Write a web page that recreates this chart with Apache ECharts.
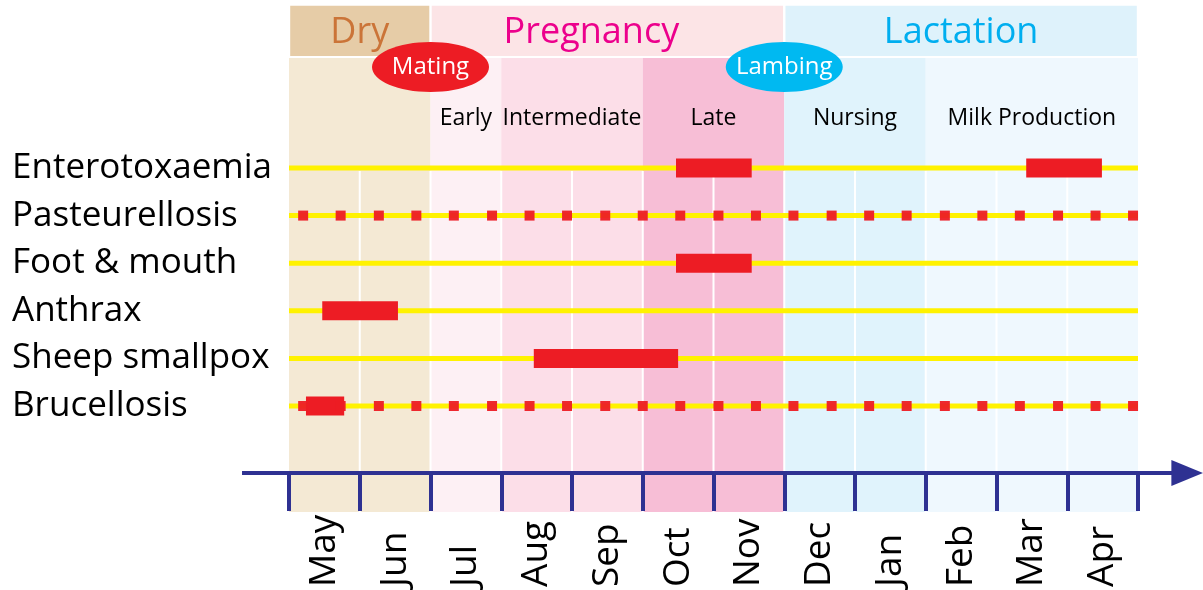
<!DOCTYPE html>
<html>
<head>
<meta charset="utf-8">
<script src="https://cdn.jsdelivr.net/npm/echarts@6/dist/echarts.min.js"></script>
<style>
html, body { margin: 0; padding: 0; background: #fff; }
#chart { width: 1203px; height: 590px; }
</style>
</head>
<body>
<div id="chart"></div>
<script>
// categories
const months = ['May', 'Jun', 'Jul', 'Aug', 'Sep', 'Oct', 'Nov', 'Dec', 'Jan', 'Feb', 'Mar', 'Apr']
const diseases = ['Enterotoxaemia', 'Pasteurellosis', 'Foot & mouth', 'Anthrax', 'Sheep smallpox', 'Brucellosis']

// seasons (month index start / end)
const seasonNames = ['Dry', 'Pregnancy', 'Lactation']
const seasonStart = [0, 2, 7]
const seasonEnd = [2, 7, 12]

// physiological stages
const stageNames = ['', 'Early', 'Intermediate', 'Late', 'Nursing', 'Milk Production']
const stageStart = [0, 2, 3, 5, 7, 9]
const stageEnd = [2, 3, 5, 7, 9, 12]

// events on the calendar
const eventNames = ['Mating', 'Lambing']
const eventMonth = [2, 7]

// vaccination periods: [start month, end month, disease row]
const vaccinationBars = [
  [5.47, 6.54, 0],
  [10.42, 11.49, 0],
  [5.47, 6.54, 2],
  [0.47, 1.54, 3],
  [3.46, 5.5, 4],
  [0.24, 0.78, 5],
]

// repeated (year-round) vaccination marks
const dottedRows = [1, 5]
const dotMonths = [0.2, 0.73, 1.27, 1.8, 2.33, 2.87, 3.4, 3.93, 4.47, 5.0, 5.53, 6.07, 6.6,
  7.13, 7.67, 8.2, 8.73, 9.27, 9.8, 10.33, 10.87, 11.4, 11.93]

const monthEdges = [1, 2, 3, 4, 5, 6, 7, 8, 9, 10, 11]

// layout, in y-axis units (row 0 = 0, one row = 1)
const HEADER_TOP = -3.41
const HEADER_BOTTOM = -2.353
const BODY_TOP = -2.311
const BODY_BOTTOM = 7.227
const HEADER_LABEL_Y = -2.84
const EVENT_Y = -2.122
const STAGE_LABEL_Y = -1.04
const SEP_TOP = 0.063
const AXIS_Y = 6.408

const FONT = '"Open Sans", "Noto Sans", sans-serif'
const RED = '#ed1c24'
const YELLOW = '#fff200'
const AXIS_BLUE = '#2e3192'
const seasonFill = ['#e6cca7', '#fce4e6', '#def2fb']
const seasonText = ['#cb7438', '#ec008c', '#00aeef']
const seasonLabelDx = [0, -16, 0]
const stageFill = ['#f4e9d4', '#fdf0f4', '#fcdee8', '#f7bed6', '#e0f3fc', '#eff8fe']
const eventFill = ['#ed1c24', '#00b9f1']

const chart = echarts.init(document.getElementById('chart'))

function rectBetween(api, x0, x1, y0, y1, fill, inset = 0) {
  const a = api.coord([x0, y0])
  const b = api.coord([x1, y1])
  return {
    type: 'rect',
    shape: { x: a[0] + inset, y: a[1], width: b[0] - a[0] - inset * 2, height: b[1] - a[1] },
    style: { fill },
  }
}

chart.setOption({
  animation: false,
  grid: { left: 289, right: 65, top: 25.2, bottom: 117, outerBoundsMode: 'none', containLabel: false },
  xAxis: [
    { type: 'value', min: 0, max: 12, position: 'top', show: false },
    {
      type: 'category',
      data: months,
      position: 'bottom',
      boundaryGap: true,
      z: 5,
      axisLine: { show: false },
      axisTick: { show: true, length: 38, interval: 0, lineStyle: { color: AXIS_BLUE, width: 4 } },
      axisLabel: {
        interval: 0, rotate: 90, margin: 114, align: 'left', verticalAlign: 'middle',
        color: '#000', fontSize: 37, fontFamily: FONT,
      },
      splitLine: { show: false },
    },
  ],
  yAxis: {
    type: 'value',
    inverse: true,
    min: -3,
    max: AXIS_Y,
    interval: 1,
    axisLine: { show: false },
    axisTick: { show: false },
    splitLine: { show: false },
    axisLabel: {
      margin: 277, align: 'left', color: '#000', fontSize: 35, fontFamily: FONT,
      showMaxLabel: false,
      formatter: (v) => diseases[v] ?? '',
    },
  },
  series: [
    {
      name: 'stages',
      type: 'custom',
      silent: true,
      data: stageStart.map((s, i) => [s, stageEnd[i]]),
      renderItem: (params, api) => {
        const i = params.dataIndex
        const x0 = api.value(0), x1 = api.value(1)
        const mid = api.coord([(x0 + x1) / 2, STAGE_LABEL_Y])
        return {
          type: 'group',
          children: [
            rectBetween(api, x0, x1, BODY_TOP, BODY_BOTTOM, stageFill[i]),
            {
              type: 'text', x: mid[0], y: mid[1],
              style: { text: stageNames[i], fill: '#000', fontSize: 23, fontFamily: FONT, align: 'center', verticalAlign: 'middle' },
            },
          ],
        }
      },
    },
    {
      name: 'seasons',
      type: 'custom',
      silent: true,
      data: seasonStart.map((s, i) => [s, seasonEnd[i]]),
      renderItem: (params, api) => {
        const i = params.dataIndex
        const x0 = api.value(0), x1 = api.value(1)
        const mid = api.coord([(x0 + x1) / 2, HEADER_LABEL_Y])
        return {
          type: 'group',
          children: [
            rectBetween(api, x0, x1, HEADER_TOP, HEADER_BOTTOM, seasonFill[i], 1.2),
            {
              type: 'text', x: mid[0] + seasonLabelDx[i], y: mid[1],
              style: { text: seasonNames[i], fill: seasonText[i], fontSize: 36, fontFamily: FONT, align: 'center', verticalAlign: 'middle' },
            },
          ],
        }
      },
    },
    {
      name: 'month separators',
      type: 'custom',
      silent: true,
      data: monthEdges,
      renderItem: (params, api) => {
        const a = api.coord([api.value(0), SEP_TOP])
        const b = api.coord([api.value(0), BODY_BOTTOM])
        return { type: 'line', shape: { x1: a[0], y1: a[1], x2: b[0], y2: b[1] }, style: { stroke: '#fff', lineWidth: 2 } }
      },
    },
    {
      name: 'rows',
      type: 'custom',
      silent: true,
      data: diseases.map((d, i) => [i]),
      renderItem: (params, api) => {
        const a = api.coord([0, api.value(0)])
        const b = api.coord([12, api.value(0)])
        return { type: 'line', shape: { x1: a[0], y1: a[1], x2: b[0], y2: b[1] }, style: { stroke: YELLOW, lineWidth: 5 } }
      },
    },
    {
      name: 'repeated',
      type: 'scatter',
      silent: true,
      clip: false,
      symbol: 'rect',
      symbolSize: 10,
      itemStyle: { color: RED, opacity: 0.95 },
      data: dottedRows.flatMap((r) => dotMonths.map((m) => [m, r])),
    },
    {
      name: 'vaccination',
      type: 'custom',
      silent: true,
      data: vaccinationBars,
      renderItem: (params, api) => {
        const row = api.value(2)
        const a = api.coord([api.value(0), row])
        const b = api.coord([api.value(1), row])
        return { type: 'rect', shape: { x: a[0], y: a[1] - 9.5, width: b[0] - a[0], height: 19 }, style: { fill: RED } }
      },
    },
    {
      name: 'events',
      type: 'custom',
      silent: true,
      data: eventMonth.map((m) => [m]),
      renderItem: (params, api) => {
        const i = params.dataIndex
        const c = api.coord([api.value(0), EVENT_Y])
        return {
          type: 'group',
          children: [
            { type: 'ellipse', shape: { cx: c[0], cy: c[1], rx: 58.5, ry: 25 }, style: { fill: eventFill[i] } },
            {
              type: 'text', x: c[0], y: c[1],
              style: { text: eventNames[i], fill: '#fff', fontSize: 24, fontFamily: FONT, align: 'center', verticalAlign: 'middle' },
            },
          ],
        }
      },
    },
    {
      name: 'time axis',
      type: 'custom',
      silent: true,
      z: 6,
      data: [[0]],
      renderItem: (params, api) => {
        const a = api.coord([-0.664, AXIS_Y])
        const b = api.coord([12.5, AXIS_Y])
        const tip = api.coord([12.92, AXIS_Y])
        return {
          type: 'group',
          children: [
            { type: 'line', shape: { x1: a[0], y1: a[1], x2: b[0], y2: b[1] }, style: { stroke: AXIS_BLUE, lineWidth: 4 } },
            {
              type: 'polygon',
              shape: { points: [[b[0] - 2, b[1] - 13], [tip[0], tip[1]], [b[0] - 2, b[1] + 13]] },
              style: { fill: AXIS_BLUE },
            },
          ],
        }
      },
    },
  ],
})
</script>
</body>
</html>
